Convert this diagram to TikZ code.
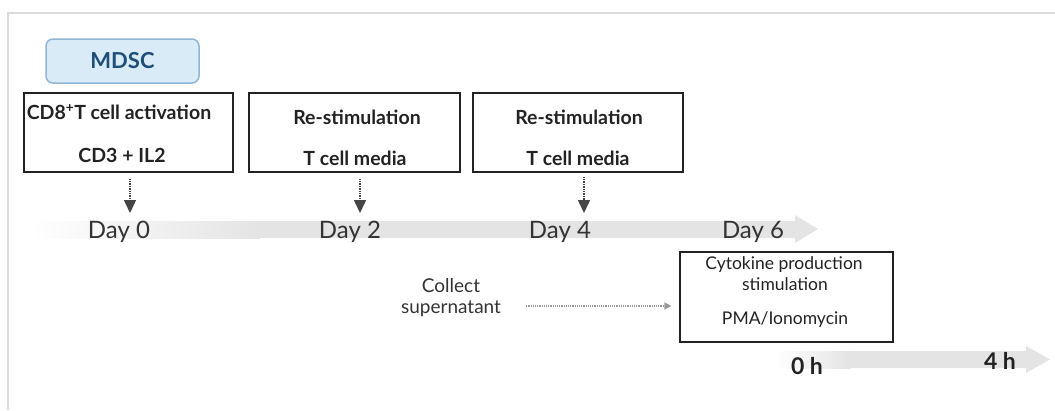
\documentclass[tikz,border=0pt]{standalone}
\usepackage{fontspec}
\setmainfont{Lato}
\usetikzlibrary{arrows.meta}
\definecolor{mdscfill}{HTML}{D8EBF6}
\definecolor{mdscdraw}{HTML}{8FB4D6}
\definecolor{mdsctext}{HTML}{1F4E79}
\definecolor{frameg}{HTML}{DADADA}
\definecolor{bandg}{HTML}{E4E4E4}
\definecolor{txtdark}{HTML}{222222}
\definecolor{daytxt}{HTML}{333333}
\definecolor{arrowg}{HTML}{444444}
\definecolor{lightarrow}{HTML}{999999}
\tikzset{
  stepbox/.style={draw=txtdark, line width=1.1pt, minimum width=#1, inner sep=0pt},
  boxtxt/.style={font=\bfseries\fontsize{19.5}{22}\selectfont, text=txtdark, inner sep=0pt},
  cytotxt/.style={font=\fontsize{17.5}{20}\selectfont, text=txtdark, inner sep=0pt},
  daytxtst/.style={font=\fontsize{24}{28}\selectfont, text=daytxt, inner sep=0pt},
  hourtxt/.style={font=\bfseries\fontsize{23}{27}\selectfont, text=txtdark, inner sep=0pt},
  varrow/.style={arrowg, line width=1.4pt, densely dotted, -{Triangle[width=12pt,length=13pt]}},
  harrow/.style={lightarrow, line width=1.2pt, densely dotted, -{Triangle[width=7pt,length=7pt]}},
}
\begin{document}
\begin{tikzpicture}[x=1pt,y=-1pt]
\useasboundingbox (0,0) rectangle (1055,410);
% frame
\draw[frameg, line width=2pt] (8,410) -- (8,13) -- (1055,13);

% timeline 1
\shade[left color=white, right color=bandg] (30,221) rectangle (260,238);
\fill[bandg] (259,221) -- (795,221) -- (795,215) -- (818,229) -- (795,243) -- (795,238) -- (259,238) -- cycle;
% timeline 2
\shade[left color=white, right color=bandg] (775,351) rectangle (850,368);
\fill[bandg] (849,351) -- (1026,351) -- (1026,346) -- (1050,359.5) -- (1026,373) -- (1026,368) -- (849,368) -- cycle;

% MDSC
\node[draw=mdscdraw, fill=mdscfill, line width=1.5pt, rounded corners=7pt,
      minimum width=153pt, minimum height=44pt, inner sep=0pt,
      font=\bfseries\fontsize{22}{26}\selectfont, text=mdsctext] (mdsc) at (122.5,61) {MDSC};

% boxes
\node[stepbox=209pt, minimum height=79pt] (b1) at (128.5,132.5) {};
\node[boxtxt] (b1a) at (119,112) {CD8\textsuperscript{+}T cell activation};
\node[boxtxt] (b1b) at (122,155) {CD3 + IL2};

\node[stepbox=211pt, minimum height=79pt] (b2) at (354.5,132.5) {};
\node[boxtxt] (b2a) at (357,117) {Re-stimulation};
\node[boxtxt] (b2b) at (355,158) {T cell media};

\node[stepbox=210pt, minimum height=79pt] (b3) at (578,132.5) {};
\node[boxtxt] (b3a) at (579,117) {Re-stimulation};
\node[boxtxt] (b3b) at (578,158) {T cell media};

% day labels
\node[daytxtst] (d0) at (119,232) {Day 0};
\node[daytxtst] (d2) at (350,232) {Day 2};
\node[daytxtst] (d4) at (560,232) {Day 4};
\node[daytxtst] (d6) at (753,232) {Day 6};

% arrow end points
\coordinate (e1) at (130,213);
\coordinate (e2) at (360,213);
\coordinate (e3) at (584,213);
\draw[varrow] (b1.south -| e1) ++(0,6) -- (e1);
\draw[varrow] (b2.south -| e2) ++(0,6) -- (e2);
\draw[varrow] (b3.south -| e3) ++(0,4) -- (e3);

% cytokine box
\node[stepbox=213pt, minimum height=90pt] (cy) at (786.5,297) {};
\node[cytotxt] (cya) at (784,265) {Cytokine production};
\node[cytotxt] (cyb) at (785,284) {stimulation};
\node[cytotxt] (cyc) at (785,320) {PMA/Ionomycin};

% collect supernatant
\node[font=\fontsize{19}{21}\selectfont, text=daytxt, align=center, inner sep=0pt] (col) at (451,298) {Collect\\supernatant};
\draw[harrow] ([xshift=25pt,yshift=-8pt]col.east) -- ([xshift=-8pt,yshift=-9pt]cy.west);

% hours
\node[hourtxt] (h0) at (807,366) {0 h};
\node[hourtxt] (h4) at (1000,361) {4 h};
\end{tikzpicture}
\end{document}
